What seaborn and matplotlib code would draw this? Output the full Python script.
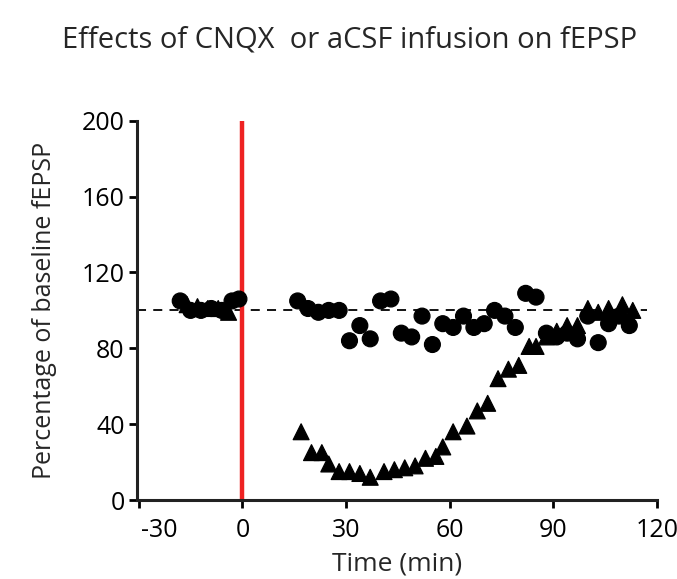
import pandas as pd
import seaborn as sns
import matplotlib.pyplot as plt
import matplotlib.transforms as mtransforms

# ==========================
# Data
# ==========================

# aCSF infusion (circles)
acsf_time = [-18, -15, -12, -9, -6, -3, -1,
             16, 19, 22, 25, 28, 31, 34, 37, 40, 43, 46, 49, 52, 55, 58, 61,
             64, 67, 70, 73, 76, 79, 82, 85, 88, 91, 94, 97, 100, 103, 106, 109, 112]
acsf_value = [105, 100, 100, 101, 100, 105, 106,
              105, 101, 99, 100, 100, 84, 92, 85, 105, 106, 88, 86, 97, 82, 93, 91,
              97, 91, 93, 100, 97, 91, 109, 107, 88, 86, 88, 85, 97, 83, 93, 97, 92]

# CNQX infusion (triangles)
cnqx_time = [-16, -13, -10, -7, -4,
             17, 20, 23, 25, 28, 31, 34, 37, 41, 44, 47, 50, 53, 56, 58, 61,
             65, 68, 71, 74, 77, 80, 83, 85, 88, 91, 94, 97, 100, 103, 106, 110, 113]
cnqx_value = [103, 102, 101, 101, 99,
              36, 25, 25, 19, 15, 15, 14, 12, 15, 16, 17, 18, 22, 23, 28, 36,
              39, 47, 51, 64, 69, 71, 81, 81, 86, 89, 92, 92, 101, 99, 101, 103, 100]

x_ticks = [-30, 0, 30, 60, 90, 120]
y_ticks = [0, 40, 80, 120, 160, 200]

df = pd.concat([
    pd.DataFrame({"time": acsf_time, "value": acsf_value, "group": "aCSF"}),
    pd.DataFrame({"time": cnqx_time, "value": cnqx_value, "group": "CNQX"}),
])

# ==========================
# Style
# ==========================
sns.set_style("ticks")
plt.rcParams["font.family"] = ["Open Sans", "DejaVu Sans"]
plt.rcParams["axes.unicode_minus"] = False

fig = plt.figure(figsize=(6.77, 5.79), dpi=100)
ax = fig.add_axes([0.2024, 0.1364, 0.768, 0.655])

# baseline reference line
ax.axhline(100, xmin=0, xmax=0.98, color="black", linestyle=(0, (5, 4)), linewidth=1.3, zorder=1)

# infusion marker
ax.plot([0, 0], [0, 200], color="#ee2222", linewidth=3.2, zorder=2, solid_capstyle="butt")

sns.scatterplot(
    data=df, x="time", y="value", style="group",
    markers={"aCSF": "o", "CNQX": "^"},
    color="black", edgecolor="black", s=130,
    legend=False, ax=ax, zorder=3
)

ax.set_xlim(-30.5, 120)
ax.set_ylim(0, 200)
ax.set_xticks(x_ticks)
ax.set_yticks(y_ticks)
ax.tick_params(labelsize=18, width=2, length=6, direction="out", colors="black")
ax.tick_params(axis="x", pad=7)
ax.tick_params(axis="y", pad=3)

# the "-30" label sits a bit right of its tick in the original
first = ax.get_xticklabels()[0]
first.set_transform(first.get_transform() + mtransforms.ScaledTranslation(0.2, 0, fig.dpi_scale_trans))

for side in ["top", "right"]:
    ax.spines[side].set_visible(False)
for side in ["left", "bottom"]:
    ax.spines[side].set_linewidth(2.2)
    ax.spines[side].set_color("#222222")

ax.set_xlabel("Time (min)", fontsize=19, labelpad=6)
ax.set_ylabel("Percentage of baseline fEPSP", fontsize=18, labelpad=18)

fig.text(0.517, 0.931, "Effects of CNQX  or aCSF infusion on fEPSP", ha="center", va="center", fontsize=21)

fig.savefig("out.png", dpi=100)
